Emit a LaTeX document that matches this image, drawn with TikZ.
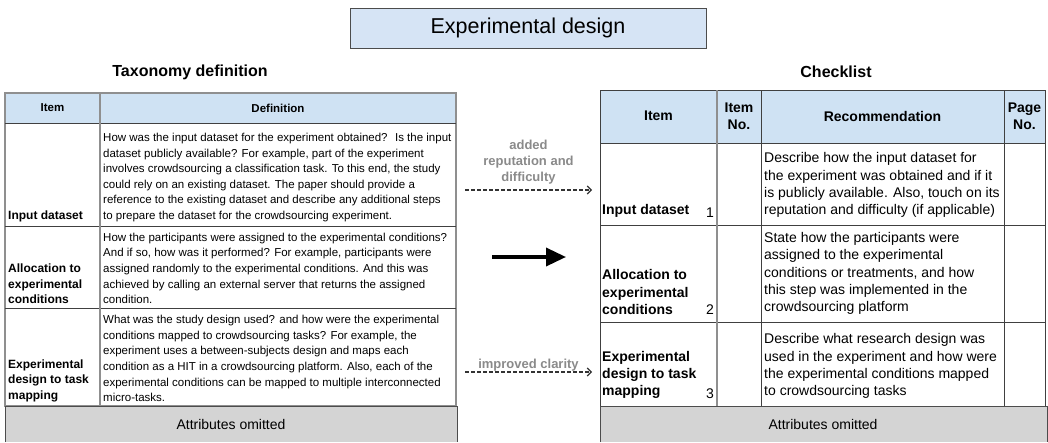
\documentclass[tikz,border=0pt]{standalone}
\usepackage{fontspec}
\setmainfont{Liberation Sans}
\usepackage{xcolor}
\usetikzlibrary{arrows.meta, positioning}

\definecolor{headblue}{HTML}{CFE2F3}
\definecolor{titleblue}{HTML}{D6E4F5}
\definecolor{omitgray}{HTML}{D4D4D4}
\definecolor{rulegray}{HTML}{8F8F8F}
\definecolor{notegray}{HTML}{8A8A8A}

\newcommand{\fsz}[2]{\fontsize{#1}{#2}\selectfont}

\tikzset{
  cellline/.style={draw=black!75, line width=0.9pt},
  headcell/.style={font=\fsz{11.5}{13}\bfseries, align=center},
  headcellR/.style={font=\fsz{14}{16.5}\bfseries, align=center},
  deftext/.style={anchor=south west, inner sep=0pt, align=left, font=\fsz{11.5}{15.6}},
  defitem/.style={deftext, font=\fsz{12}{15.6}\bfseries},
  rectext/.style={anchor=south west, inner sep=0pt, align=left, font=\fsz{14}{17.4}},
  recitem/.style={rectext, font=\fsz{14}{17.4}\bfseries},
  recno/.style={anchor=south east, inner sep=0pt, font=\fsz{14}{17.4}},
  omitbox/.style={draw=black!70, line width=0.9pt},
  notetext/.style={text=notegray, font=\fsz{13}{16}\bfseries, align=center},
  notearrow/.style={draw=black!80, line width=1.1pt, dash pattern=on 3.5pt off 2.5pt, -{Straight Barb[length=4pt,width=8pt]}},
}

\begin{document}
\begin{tikzpicture}[x=1pt, y=-1pt]
\useasboundingbox (0,0) rectangle (1048,442);

% title and headings
\node[draw=black!70, fill=titleblue, line width=0.9pt, minimum width=356pt, minimum height=40pt, font=\fsz{21.5}{24}] (title) at (528,28) {Experimental design};
\node[font=\fsz{16}{18}\bfseries] (taxo) at (190,72) {Taxonomy definition};
\node[font=\fsz{16}{18}\bfseries] (check) at (836,72) {Checklist};

% taxonomy table
\fill[headblue] (5,93) rectangle (456,123);
\draw[rulegray, line width=1.2pt] (5,93) rectangle (456,406);
\foreach \y in {123,226,308} \draw[cellline] (5,\y) -- (456,\y);
\draw[rulegray, line width=2pt] (100,93) -- (100,406);
\node[headcell] (itemL) at (52.5,108) {Item};
\node[headcell] (defL) at (278,108) {Definition};

\node[defitem] (itemA) at (8,222) {Input dataset};
\node[deftext] (defA) at (103,222) {How was the input dataset for the experiment obtained?~ Is the input\\dataset publicly available? For example, part of the experiment\\involves crowdsourcing a classification task. To this end, the study\\could rely on an existing dataset. The paper should provide a\\reference to the existing dataset and describe any additional steps\\to prepare the dataset for the crowdsourcing experiment.};
\node[defitem] (itemB) at (8,304) {Allocation to\\experimental\\conditions};
\node[deftext] (defB) at (103,304) {How the participants were assigned to the experimental conditions?\\And if so, how was it performed? For example, participants were\\assigned randomly to the experimental conditions. And this was\\achieved by calling an external server that returns the assigned\\condition.};
\node[defitem] (itemC) at (8,402) {Experimental\\design to task\\mapping};
\node[deftext] (defC) at (103,402) {What was the study design used? and how were the experimental\\conditions mapped to crowdsourcing tasks? For example, the\\experiment uses a between-subjects design and maps each\\condition as a HIT in a crowdsourcing platform. Also, each of the\\experimental conditions can be mapped to multiple interconnected\\micro-tasks.};

\fill[omitgray] (5,406) rectangle (457,442);
\draw[omitbox] (5,442) -- (5,406) -- (457,406) -- (457,442);
\node[font=\fsz{14}{16}] (omitL) at (231,424) {Attributes omitted};

% checklist table
\fill[headblue] (600,90) rectangle (1045,143);
\draw[cellline] (600,90) rectangle (1045,406);
\foreach \y in {143,225,322} \draw[cellline] (600,\y) -- (1045,\y);
\draw[rulegray, line width=1.6pt] (717,90) -- (717,406);
\foreach \x in {761,1004} \draw[cellline] (\x,90) -- (\x,406);
\node[headcellR] (itemR) at (658.5,116) {Item};
\node[headcellR] (noR) at (739,116) {Item\\No.};
\node[headcellR] (recR) at (882.5,116) {Recommendation};
\node[headcellR] (pageR) at (1024.5,116) {Page\\No.};

\node[recitem] (chkA) at (602,218) {Input dataset};
\node[recno] (noA) at (714,218) {1};
\node[rectext] (recA) at (764,218) {Describe how the input dataset for\\the experiment was obtained and if it\\is publicly available. Also, touch on its\\reputation and difficulty (if applicable)};
\node[recitem] (chkB) at (602,315) {Allocation to\\experimental\\conditions};
\node[recno] (noB) at (714,315) {2};
\node[rectext] (recB) at (764,315) {State how the participants were\\assigned to the experimental\\conditions or treatments, and how\\this step was implemented in the\\crowdsourcing platform};
\node[recitem] (chkC) at (602,399) {Experimental\\design to task\\mapping};
\node[recno] (noC) at (714,399) {3};
\node[rectext] (recC) at (764,399) {Describe what research design was\\used in the experiment and how were\\the experimental conditions mapped\\to crowdsourcing tasks};

\fill[omitgray] (600,406) rectangle (1047,442);
\draw[omitbox] (600,442) -- (600,406) -- (1047,406) -- (1047,442);
\node[font=\fsz{14}{16}] (omitR) at (823,424) {Attributes omitted};

% changes between the two
\coordinate (addA) at (465,190);
\coordinate (addB) at (592,190);
\draw[notearrow] (addA) -- node[notetext, above=2pt] (addnote) {added\\reputation and\\difficulty} (addB);

\coordinate (mapA) at (492,257);
\coordinate (mapB) at (566,257);
\draw[line width=3.5pt, -{Triangle[length=20pt,width=18pt]}] (mapA) -- (mapB);

\coordinate (clarA) at (465,372);
\coordinate (clarB) at (592,372);
\draw[notearrow] (clarA) -- node[notetext, anchor=base, yshift=4pt] (clarnote) {improved clarity} (clarB);
\end{tikzpicture}
\end{document}
